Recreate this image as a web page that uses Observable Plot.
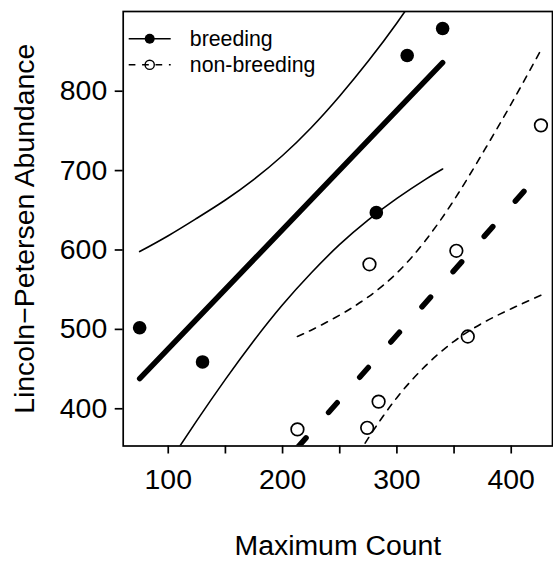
<!DOCTYPE html>
<html>
<head>
<meta charset="utf-8">
<script src="https://cdn.jsdelivr.net/npm/d3@7"></script>
<script src="https://cdn.jsdelivr.net/npm/@observablehq/plot@0.6"></script>
<style>
  html, body { margin: 0; padding: 0; background: #fff; }
  #chart { width: 553px; height: 561px; }
</style>
</head>
<body>
<div id="chart"></div>
<script>
// ---- data ----
const breedX = [75, 130, 282, 309, 340];
const breedY = [502, 459, 647, 845, 879];
const nonX = [213, 274, 284, 276, 352, 362, 426];
const nonY = [374, 376, 409, 582, 599, 491, 757];

const fitBreedX = [75, 340];
const fitBreedY = [438, 836];
const fitNonX = [213, 426];
const fitNonY = [351, 698];

const ciBreedX = [75, 100, 125, 150, 175, 200, 225, 250, 275, 300, 325, 340];
const ciBreedUpper = [598, 618, 640, 663, 689, 719, 754, 794, 838, 886, 938, 969];
const ciBreedLower = [277, 331, 385, 437, 486, 531, 571, 607, 638, 665, 689, 702];

const ciNonX = [213, 225, 250, 275, 300, 325, 350, 375, 400, 426];
const ciNonUpper = [491, 499, 518, 541, 571, 612, 663, 722, 784, 852];
const ciNonLower = [211, 242, 304, 363, 414, 454, 485, 508, 526, 543];

const xTicks = [100, 150, 200, 250, 300, 350, 400];
const xTickLabels = ["100", "", "200", "", "300", "", "400"];
const yTicks = [400, 500, 600, 700, 800];
const legendLabels = ["breeding", "non-breeding"];
const xTitle = "Maximum Count";
const yTitle = "Lincoln\u2212Petersen Abundance";

// ---- build tables ----
const pts = (xs, ys) => xs.map((x, i) => ({x, y: ys[i]}));
const breedPts = pts(breedX, breedY);
const nonPts = pts(nonX, nonY);
const fitBreed = pts(fitBreedX, fitBreedY);
const fitNon = pts(fitNonX, fitNonY);
const ciBU = pts(ciBreedX, ciBreedUpper);
const ciBL = pts(ciBreedX, ciBreedLower);
const ciNU = pts(ciNonX, ciNonUpper);
const ciNL = pts(ciNonX, ciNonLower);

const FS = 28.4;
const LFS = 21.3;
const thin = 1.6;
const thick = 5.5;

const lineSymbol = (w) => ({ draw(ctx) { ctx.moveTo(-w / 2, 0); ctx.lineTo(w / 2, 0); } });

const chart = Plot.plot({
  width: 553,
  height: 561,
  marginLeft: 122.7,
  marginRight: 1,
  marginTop: 11,
  marginBottom: 115.5,
  style: { fontFamily: "'Liberation Sans', Arial, Helvetica, sans-serif", fontSize: FS + "px", color: "black", background: "white" },
  x: { domain: [60.6, 436.1] },
  y: { domain: [353.1, 900.4] },
  marks: [
    // breeding
    Plot.line(ciBU, { x: "x", y: "y", stroke: "black", strokeWidth: thin, curve: "natural", clip: true }),
    Plot.line(ciBL, { x: "x", y: "y", stroke: "black", strokeWidth: thin, curve: "natural", clip: true }),
    Plot.line(fitBreed, { x: "x", y: "y", stroke: "black", strokeWidth: thick, strokeLinecap: "round", clip: true }),
    // non-breeding
    Plot.line(ciNU, { x: "x", y: "y", stroke: "black", strokeWidth: thin, strokeDasharray: "6.7,6.7", curve: "natural", clip: true }),
    Plot.line(ciNL, { x: "x", y: "y", stroke: "black", strokeWidth: thin, strokeDasharray: "6.7,6.7", curve: "natural", clip: true }),
    Plot.line(fitNon, { x: "x", y: "y", stroke: "black", strokeWidth: thick, strokeDasharray: "13,34", strokeLinecap: "round", clip: true }),
    // points
    Plot.dot(breedPts, { x: "x", y: "y", r: 6.8, fill: "black", stroke: "none" }),
    Plot.dot(nonPts, { x: "x", y: "y", r: 6.3, fill: "none", stroke: "black", strokeWidth: 1.7 }),
    // axes
    Plot.axisX({ ticks: xTicks, tickFormat: (d) => xTickLabels[xTicks.indexOf(d)], tickSize: 8, tickPadding: 14.5, strokeWidth: 1.7, fontSize: FS, label: null }),
    Plot.axisY({ ticks: yTicks, tickSize: 8, tickPadding: 8, strokeWidth: 1.7, fontSize: FS, label: null }),
    Plot.frame({ stroke: "black", strokeWidth: 1.7 }),
    // axis titles
    Plot.text([xTitle], { text: (d) => d, frameAnchor: "bottom", dy: 100.4, textAnchor: "middle", lineAnchor: "middle", fontSize: FS, fill: "black" }),
    Plot.text([yTitle], { text: (d) => d, frameAnchor: "left", dx: -98.3, rotate: -90, textAnchor: "middle", lineAnchor: "middle", fontSize: FS, fill: "black" }),
    // legend
    Plot.dot([legendLabels[0]], { frameAnchor: "top-left", dx: 26.5, dy: 27.3, symbol: lineSymbol(42), r: 5, stroke: "black", strokeWidth: thin }),
    Plot.dot([legendLabels[0]], { frameAnchor: "top-left", dx: 26.5, dy: 27.3, r: 5, fill: "black", stroke: "none" }),
    Plot.dot([legendLabels[1]], { frameAnchor: "top-left", dx: 26.5, dy: 53.3, symbol: lineSymbol(42), r: 5, stroke: "black", strokeWidth: thin, strokeDasharray: "6.7,6.7" }),
    Plot.dot([legendLabels[1]], { frameAnchor: "top-left", dx: 26.5, dy: 53.3, r: 4.6, fill: "none", stroke: "black", strokeWidth: 1.4 }),
    Plot.text([legendLabels[0]], { text: (d) => d, frameAnchor: "top-left", dx: 66.6, dy: 27.3, textAnchor: "start", lineAnchor: "middle", fontSize: LFS, fill: "black" }),
    Plot.text([legendLabels[1]], { text: (d) => d, frameAnchor: "top-left", dx: 66.6, dy: 53.3, textAnchor: "start", lineAnchor: "middle", fontSize: LFS, fill: "black" })
  ]
});
document.getElementById("chart").appendChild(chart);
</script>
</body>
</html>
